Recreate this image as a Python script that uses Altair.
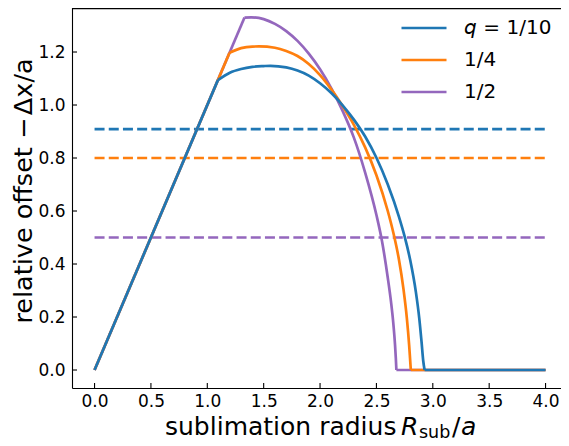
import altair as alt
import pandas as pd

# ---- data ----
series_names = ["\U0001D632 = 1/10", "1/4", "1/2"]
colors = ["#1f77b4", "#ff7f0e", "#9467bd"]

# straight rise y = x up to the kink, curved part, then flat zero to x = 4
blue_x = [0.0, 1.094, 1.2, 1.3, 1.4, 1.5, 1.56, 1.7, 1.8, 1.9, 2.0, 2.1, 2.2, 2.3, 2.4, 2.5, 2.6,
          2.7, 2.75, 2.8, 2.85, 2.88, 2.9, 2.915, 2.927, 4.0]
blue_y = [0.0, 1.094, 1.122, 1.136, 1.144, 1.147, 1.148, 1.142, 1.130, 1.111, 1.082, 1.045, 0.999,
          0.945, 0.881, 0.801, 0.701, 0.578, 0.504, 0.414, 0.294, 0.195, 0.107, 0.035, 0.0, 0.0]

orange_x = [0.0, 1.197, 1.3, 1.4, 1.46, 1.6, 1.7, 1.8, 1.9, 2.0, 2.1, 2.2, 2.3, 2.4, 2.5, 2.6,
            2.65, 2.7, 2.74, 2.77, 2.79, 2.798, 2.805, 4.0]
orange_y = [0.0, 1.197, 1.2145, 1.2205, 1.221, 1.216, 1.204, 1.185, 1.155, 1.113, 1.059, 0.996,
            0.925, 0.840, 0.735, 0.601, 0.518, 0.416, 0.305, 0.195, 0.095, 0.045, 0.0, 0.0]

purple_x = [0.0, 1.33, 1.39, 1.5, 1.6, 1.7, 1.8, 1.9, 2.0, 2.1, 2.2, 2.3, 2.4, 2.5, 2.55, 2.6,
            2.63, 2.65, 2.665, 2.672, 2.677, 4.0]
purple_y = [0.0, 1.330, 1.331, 1.324, 1.306, 1.279, 1.242, 1.194, 1.135, 1.063, 0.978, 0.877,
            0.745, 0.585, 0.485, 0.350, 0.255, 0.175, 0.095, 0.045, 0.0, 0.0]

dashed_levels = [0.909, 0.8, 0.5]
dashed_start = [0.0, 0.0, 0.0]
dashed_end = [4.0, 4.0, 4.0]

x_ticks = [0.0, 0.5, 1.0, 1.5, 2.0, 2.5, 3.0, 3.5, 4.0]
y_ticks = [0.0, 0.2, 0.4, 0.6, 0.8, 1.0, 1.2]

# ---- layout ----
W, H = 489, 387
FONT = "DejaVu Sans"
xscale = alt.Scale(domain=[-0.2, 4.137], nice=False, zero=False)
yscale = alt.Scale(domain=[-0.0679, 1.3925], nice=False, zero=False)

x_axis = alt.Axis(values=x_ticks, format=".1f", title=None, ticks=False, tickSize=0,
                  labelFontSize=17, labelFont=FONT, labelColor="black", labelPadding=5,
                  labelFlush=False, labelOverlap=False, domainColor="black", domainWidth=1.1,
                  grid=False)
y_axis = alt.Axis(values=y_ticks, format=".1f", title=None, ticks=False, tickSize=0,
                  labelFontSize=17, labelFont=FONT, labelColor="black", labelPadding=7,
                  labelFlush=False, labelOverlap=False, domainColor="black", domainWidth=1.1,
                  grid=False)

legend = alt.Legend(title=None, orient="none", legendX=328, legendY=17, direction="vertical",
                    symbolType="stroke", symbolSize=2025, symbolStrokeWidth=2.7,
                    labelFontSize=20, labelFont=FONT, labelColor="black", labelOffset=16,
                    clipHeight=20, rowPadding=12, padding=0, labelLimit=300)

color_enc = alt.Color("series:N", scale=alt.Scale(domain=series_names, range=colors), legend=legend)


def series_layers(xs, ys, name):
    n = len(xs)
    straight = pd.DataFrame({
        "x": [xs[0], xs[1], xs[n - 2], xs[n - 1]],
        "y": [ys[0], ys[1], ys[n - 2], ys[n - 1]],
        "seg": ["a", "a", "c", "c"],
        "series": name,
    })
    arc = pd.DataFrame({"x": xs[1:n - 1], "y": ys[1:n - 1], "series": name})
    enc = dict(
        x=alt.X("x:Q", scale=xscale, axis=x_axis),
        y=alt.Y("y:Q", scale=yscale, axis=y_axis),
        color=color_enc,
    )
    l1 = alt.Chart(straight).mark_line(strokeWidth=2.7, strokeJoin="round", clip=True).encode(
        detail="seg:N", **enc)
    l2 = alt.Chart(arc).mark_line(strokeWidth=2.7, strokeJoin="round", interpolate="monotone",
                                  clip=True).encode(**enc)
    return [l1, l2]


dash_df = pd.DataFrame({"level": dashed_levels, "x0": dashed_start, "x1": dashed_end, "col": colors})
dashed = alt.Chart(dash_df).mark_rule(strokeWidth=2.7, strokeDash=[10, 4.2]).encode(
    x=alt.X("x0:Q", scale=xscale, axis=x_axis),
    x2="x1:Q",
    y=alt.Y("level:Q", scale=yscale, axis=y_axis),
    color=alt.Color("col:N", scale=None),
)

xt = alt.Chart(pd.DataFrame({"xt": x_ticks})).mark_rule(color="black", strokeWidth=1.1).encode(
    x=alt.X("xt:Q", scale=xscale, axis=x_axis), y=alt.value(H), y2=alt.value(H - 5))
yt = alt.Chart(pd.DataFrame({"yt": y_ticks})).mark_rule(color="black", strokeWidth=1.1).encode(
    y=alt.Y("yt:Q", scale=yscale, axis=y_axis), x=alt.value(0), x2=alt.value(5))

top_border = alt.Chart(pd.DataFrame({"a": [0]})).mark_rule(color="black", strokeWidth=1.1).encode(
    x=alt.value(0), x2=alt.value(W), y=alt.value(7.6))


def txt(s, x, y, size=25, style="normal", align="left", angle=0):
    return alt.Chart(pd.DataFrame({"a": [0]})).mark_text(
        text=s, font=FONT, fontSize=size, fontStyle=style, align=align, baseline="alphabetic",
        angle=angle, color="black").encode(x=alt.value(x), y=alt.value(y))


xtitle = [
    txt("sublimation radius", 93, 434),
    txt("R", 329, 434, style="italic"),
    txt("sub", 347, 436.5, size=17.5),
    txt("/", 380, 434),
    txt("a", 389, 434, style="italic"),
]
ytitle = txt("relative offset \u2212\u200a\u0394x/a", -40, 190, size=25.5, align="center",
             angle=270)

chart = alt.layer(
    dashed,
    *series_layers(purple_x, purple_y, series_names[2]),
    *series_layers(orange_x, orange_y, series_names[1]),
    *series_layers(blue_x, blue_y, series_names[0]),
    xt, yt, top_border, *xtitle, ytitle,
).properties(
    width=W, height=H,
    autosize=alt.AutoSizeParams(type="none"),
    padding={"left": 64, "top": -7, "right": 0, "bottom": 54},
    background="white",
).configure_view(stroke=None)

chart.save("out.html", embed_options={"renderer": "svg", "actions": False})
